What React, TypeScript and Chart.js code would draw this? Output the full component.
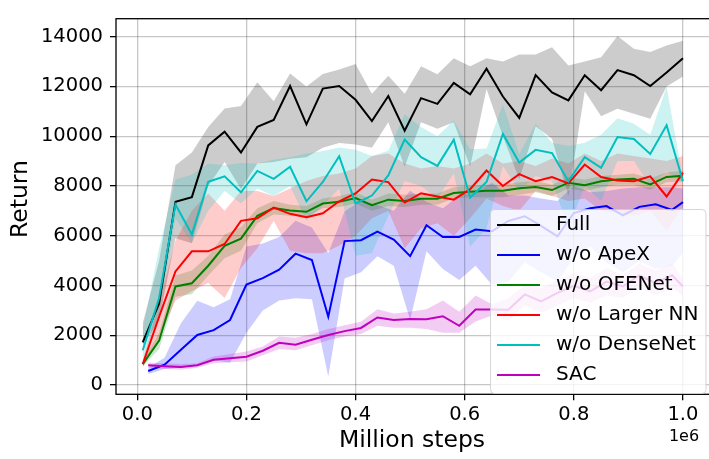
import React, { useEffect, useRef } from "react";
import { Chart, registerables } from "chart.js";

Chart.register(...registerables);

// ---------- data (x in environment steps, y = return) ----------
const STEPS_A = [10000, 40000, 70000, 100000, 130000, 160000, 190000, 220000, 250000, 280000, 310000, 340000, 370000, 400000, 430000, 460000, 490000, 520000, 550000, 580000, 610000, 640000, 670000, 700000, 730000, 760000, 790000, 820000, 850000, 880000, 910000, 940000, 970000, 1000000];
const STEPS_B = [20000, 50000, 80000, 110000, 140000, 170000, 200000, 230000, 260000, 290000, 320000, 350000, 380000, 410000, 440000, 470000, 500000, 530000, 560000, 590000, 620000, 650000, 680000, 710000, 740000, 770000, 800000, 830000, 860000, 890000, 920000, 950000, 980000, 1000000];

const FULL_MEAN = [1719, 3284, 7361, 7553, 9631, 10181, 9346, 10373, 10654, 12015, 10477, 11912, 12015, 11462, 10604, 11615, 10219, 11527, 11296, 12142, 11681, 12708, 11592, 10731, 12450, 11758, 11438, 12450, 11846, 12654, 12450, 12015, 12554, 13131];
const FULL_UPPER = [2488, 5000, 8835, 9346, 10373, 11115, 11208, 12169, 11400, 12515, 12000, 12500, 12681, 12900, 11704, 12423, 11704, 12808, 12488, 13131, 12808, 13131, 13000, 13285, 13285, 13577, 12835, 13000, 13169, 14027, 13515, 13385, 13642, 13835];
const FULL_LOWER = [1600, 2600, 5900, 5700, 8000, 8960, 7870, 8900, 8960, 9090, 9150, 9540, 9730, 9670, 9540, 10560, 8770, 10560, 10300, 10560, 8770, 11900, 10000, 8260, 10400, 9900, 7600, 11800, 10800, 11100, 10900, 10700, 12000, 12400];

const APEX_MEAN = [565, 823, 1423, 2015, 2208, 2615, 4040, 4300, 4640, 5280, 5027, 2746, 5785, 5823, 6169, 5846, 5181, 6423, 5950, 5950, 6246, 6181, 6592, 6785, 6400, 5977, 6912, 7104, 7190, 6823, 7160, 7265, 7038, 7350];
const APEX_UPPER = [700, 1100, 2488, 3385, 3131, 3450, 5565, 5692, 5950, 6600, 6335, 5308, 6985, 7400, 7231, 7000, 7808, 7360, 7100, 7615, 7746, 8130, 7615, 7615, 7500, 7400, 8000, 7750, 7800, 7900, 7950, 7950, 7950, 7900];
const APEX_LOWER = [450, 650, 700, 800, 1000, 900, 2104, 3000, 3400, 3490, 3450, 350, 4285, 4538, 5181, 4796, 2615, 5373, 4669, 4219, 4796, 4027, 4154, 4923, 4538, 4154, 5115, 5565, 4923, 4538, 4988, 4669, 4796, 5308];

const OFENET_MEAN = [846, 1785, 3962, 4092, 4796, 5592, 5885, 6800, 7117, 7019, 6963, 7296, 7361, 7515, 7231, 7450, 7400, 7488, 7488, 7719, 7769, 7808, 7808, 7912, 7962, 7835, 8131, 8027, 8190, 8258, 8285, 8065, 8362, 8412];
const OFENET_UPPER = [950, 2100, 4400, 4600, 5200, 6050, 6350, 7100, 7400, 7250, 7200, 7500, 7600, 7750, 7450, 7700, 7650, 7700, 7700, 7950, 8000, 8050, 8050, 8150, 8200, 8050, 8350, 8250, 8400, 8450, 8500, 8300, 8550, 8600];
const OFENET_LOWER = [750, 1450, 3550, 3650, 4400, 5100, 5400, 6500, 6850, 6800, 6750, 7100, 7150, 7300, 7000, 7200, 7150, 7250, 7250, 7500, 7550, 7550, 7550, 7650, 7750, 7600, 7900, 7800, 7950, 8050, 8050, 7850, 8150, 8200];

const LARGER_MEAN = [846, 2746, 4565, 5373, 5373, 5669, 6600, 6700, 7131, 6880, 6746, 6900, 7385, 7700, 8258, 8154, 7335, 7708, 7577, 7450, 7873, 8620, 8000, 8477, 8192, 8362, 8104, 8862, 8362, 8219, 8192, 8385, 7577, 8538];
const LARGER_UPPER = [1000, 3300, 5800, 7000, 7700, 7000, 7800, 7800, 7600, 7900, 8200, 8400, 8500, 8700, 9200, 9300, 8900, 8700, 8800, 8700, 8900, 9300, 8900, 9000, 8800, 9100, 8900, 9300, 9000, 9300, 9200, 9100, 9000, 9200];
const LARGER_LOWER = [700, 1900, 3400, 3770, 4100, 3500, 4700, 5500, 6600, 5400, 5300, 5300, 5600, 6000, 6700, 7000, 5500, 6300, 6500, 6000, 6700, 7500, 7200, 7000, 7800, 7600, 7400, 7500, 7000, 6900, 6800, 7000, 6200, 7200];

const DENSE_MEAN = [1400, 3500, 7258, 6054, 8169, 8385, 7746, 8604, 8285, 8769, 7385, 8160, 9192, 7296, 7615, 8423, 9862, 9154, 8808, 9862, 7527, 8160, 10092, 8938, 9450, 9323, 8192, 9154, 8731, 9962, 9885, 9285, 10438, 8192];
const DENSE_UPPER = [2230, 5500, 8258, 8450, 8900, 8835, 8923, 8900, 9050, 9150, 9300, 9400, 9550, 9450, 9200, 9412, 10885, 10373, 9992, 10631, 9477, 9500, 11269, 9285, 10500, 9731, 9604, 9731, 10054, 10719, 10500, 10054, 11977, 8300];
const DENSE_LOWER = [1000, 2900, 6700, 5700, 7000, 7800, 7300, 7900, 7600, 8000, 6600, 7200, 7900, 5200, 5300, 6800, 8200, 8000, 7500, 8500, 5560, 6300, 8800, 7800, 8400, 8200, 6300, 8000, 7400, 9000, 9000, 8000, 8600, 8100];

const SAC_MEAN = [796, 758, 731, 796, 1015, 1077, 1142, 1380, 1700, 1620, 1823, 2015, 2169, 2296, 2719, 2615, 2654, 2642, 2769, 2385, 3038, 3038, 3027, 3642, 3360, 3708, 3988, 3769, 4154, 3962, 4412, 4092, 4412, 3962];
const SAC_UPPER = [900, 880, 850, 880, 1150, 1250, 1350, 1550, 1950, 1900, 2050, 2250, 2400, 2550, 3050, 2880, 2950, 3050, 3400, 2950, 3600, 3250, 3500, 4000, 3900, 4200, 4500, 4300, 4700, 4400, 4900, 4600, 4900, 4300];
const SAC_LOWER = [700, 650, 620, 700, 880, 920, 950, 1200, 1450, 1400, 1600, 1800, 1950, 2050, 2380, 2300, 2300, 2250, 2100, 2100, 2560, 2800, 2600, 3200, 2900, 3200, 3500, 3300, 3600, 3500, 3900, 3600, 3900, 3600];

const LABELS = ["Full", "w/o ApeX", "w/o OFENet", "w/o Larger NN", "w/o DenseNet", "SAC"];
const COLORS = ["0,0,0", "0,0,255", "0,128,0", "255,0,0", "0,191,191", "191,0,191"];

const X_TICKS = [0, 200000, 400000, 600000, 800000, 1000000];
const Y_TICKS = [0, 2000, 4000, 6000, 8000, 10000, 12000, 14000];
const X_MIN = -39000;
const X_MAX = 1053200;
const Y_MIN = -369;
const Y_MAX = 14719;

const FONT = '"DejaVu Sans", sans-serif';

export default function App() {
  const ref = useRef<HTMLCanvasElement>(null);

  useEffect(() => {
    const canvas = ref.current;
    if (!canvas) return;

    const series = [
      { x: STEPS_A, m: FULL_MEAN, u: FULL_UPPER, l: FULL_LOWER },
      { x: STEPS_B, m: APEX_MEAN, u: APEX_UPPER, l: APEX_LOWER },
      { x: STEPS_A, m: OFENET_MEAN, u: OFENET_UPPER, l: OFENET_LOWER },
      { x: STEPS_A, m: LARGER_MEAN, u: LARGER_UPPER, l: LARGER_LOWER },
      { x: STEPS_A, m: DENSE_MEAN, u: DENSE_UPPER, l: DENSE_LOWER },
      { x: STEPS_B, m: SAC_MEAN, u: SAC_UPPER, l: SAC_LOWER },
    ];

    const pts = (xs: number[], ys: number[]) => xs.map((x, i) => ({ x, y: ys[i] }));
    const datasets: any[] = [];
    series.forEach((s, k) => {
      const upIdx = datasets.length;
      datasets.push({
        label: LABELS[k] + " upper",
        data: pts(s.x, s.u),
        borderWidth: 0,
        pointRadius: 0,
        backgroundColor: `rgba(${COLORS[k]},0.2)`,
        fill: upIdx + 1,
        order: 30 - k,
        tension: 0,
      });
      datasets.push({
        label: LABELS[k] + " lower",
        data: pts(s.x, s.l),
        borderWidth: 0,
        pointRadius: 0,
        fill: false,
        order: 30 - k,
        tension: 0,
      });
    });
    series.forEach((s, k) => {
      datasets.push({
        label: LABELS[k],
        data: pts(s.x, s.m),
        borderColor: `rgb(${COLORS[k]})`,
        borderWidth: 2,
        pointRadius: 0,
        fill: false,
        order: 10 - k,
        tension: 0,
      });
    });

    const framePlugin = {
      id: "frame",
      afterDatasetsDraw(chart: any) {
        const { ctx, chartArea: a } = chart;
        ctx.save();
        ctx.strokeStyle = "#000";
        ctx.lineWidth = 1.3;
        ctx.strokeRect(a.left, a.top, a.right - a.left, a.bottom - a.top);
        ctx.restore();
      },
    };

    const textPlugin = {
      id: "texts",
      afterDraw(chart: any) {
        const ctx = chart.ctx;
        ctx.save();
        ctx.fillStyle = "#000";
        ctx.textAlign = "center";
        ctx.textBaseline = "middle";
        ctx.font = `23.5px ${FONT}`;
        ctx.fillText("Million steps", 412, 441);
        ctx.save();
        ctx.translate(21, 199);
        ctx.rotate(-Math.PI / 2);
        ctx.fillText("Return", 0, 0);
        ctx.restore();
        ctx.font = `16px ${FONT}`;
        ctx.fillText("1e6", 684, 437);

        // legend box
        const x0 = 490.5, y0 = 209.5, x1 = 706, y1 = 393.5, r = 4;
        ctx.beginPath();
        ctx.moveTo(x0 + r, y0);
        ctx.lineTo(x1 - r, y0);
        ctx.quadraticCurveTo(x1, y0, x1, y0 + r);
        ctx.lineTo(x1, y1 - r);
        ctx.quadraticCurveTo(x1, y1, x1 - r, y1);
        ctx.lineTo(x0 + r, y1);
        ctx.quadraticCurveTo(x0, y1, x0, y1 - r);
        ctx.lineTo(x0, y0 + r);
        ctx.quadraticCurveTo(x0, y0, x0 + r, y0);
        ctx.closePath();
        ctx.fillStyle = "rgba(255,255,255,0.8)";
        ctx.fill();
        ctx.strokeStyle = "rgba(204,204,204,0.8)";
        ctx.lineWidth = 1;
        ctx.stroke();

        ctx.font = `20px ${FONT}`;
        ctx.textAlign = "left";
        LABELS.forEach((lab, i) => {
          const y = 225 + 30 * i;
          ctx.strokeStyle = `rgb(${COLORS[i]})`;
          ctx.lineWidth = 2;
          ctx.beginPath();
          ctx.moveTo(497, y);
          ctx.lineTo(540, y);
          ctx.stroke();
          ctx.fillStyle = "#000";
          ctx.fillText(lab, 556, y);
        });
        ctx.restore();
      },
    };

    const chart = new Chart(canvas, {
      type: "line",
      data: { datasets },
      plugins: [framePlugin, textPlugin],
      options: {
        animation: false,
        responsive: false,
        devicePixelRatio: 1,
        layout: { padding: { top: 2, left: 0, right: 0, bottom: 0 } },
        plugins: {
          legend: { display: false },
          tooltip: { enabled: false },
          filler: { propagate: false },
        },
        scales: {
          x: {
            type: "linear",
            min: X_MIN,
            max: X_MAX,
            afterBuildTicks: (s: any) => {
              s.ticks = X_TICKS.map((v) => ({ value: v }));
            },
            afterFit: (s: any) => {
              s.height = 459 - 394.3;
            },
            ticks: {
              autoSkip: false,
              maxRotation: 0,
              padding: 3,
              color: "#000",
              font: { family: FONT, size: 19.5 },
              callback: (v: any) => (Number(v) / 1e6).toFixed(1),
            },
            grid: {
              color: "rgba(0,0,0,0.22)",
              lineWidth: 1.3,
              tickLength: 6,
              tickColor: "#000",
              tickWidth: 1.3,
            },
            border: { display: false },
          },
          y: {
            type: "linear",
            min: Y_MIN,
            max: Y_MAX,
            afterBuildTicks: (s: any) => {
              s.ticks = Y_TICKS.map((v) => ({ value: v }));
            },
            afterFit: (s: any) => {
              s.width = 116;
            },
            ticks: {
              autoSkip: false,
              padding: 7,
              color: "#000",
              font: { family: FONT, size: 19.5 },
              callback: (v: any) => String(v),
            },
            grid: {
              color: "rgba(0,0,0,0.22)",
              lineWidth: 1.3,
              tickLength: 6,
              tickColor: "#000",
              tickWidth: 1.3,
            },
            border: { display: false },
          },
        },
      },
    });

    return () => chart.destroy();
  }, []);

  return (
    <div
      style={{
        position: "fixed",
        left: 0,
        top: 0,
        width: 709,
        height: 459,
        overflow: "hidden",
        background: "#fff",
      }}
    >
      <canvas ref={ref} width={712} height={459} style={{ width: 712, height: 459, display: "block" }} />
    </div>
  );
}
